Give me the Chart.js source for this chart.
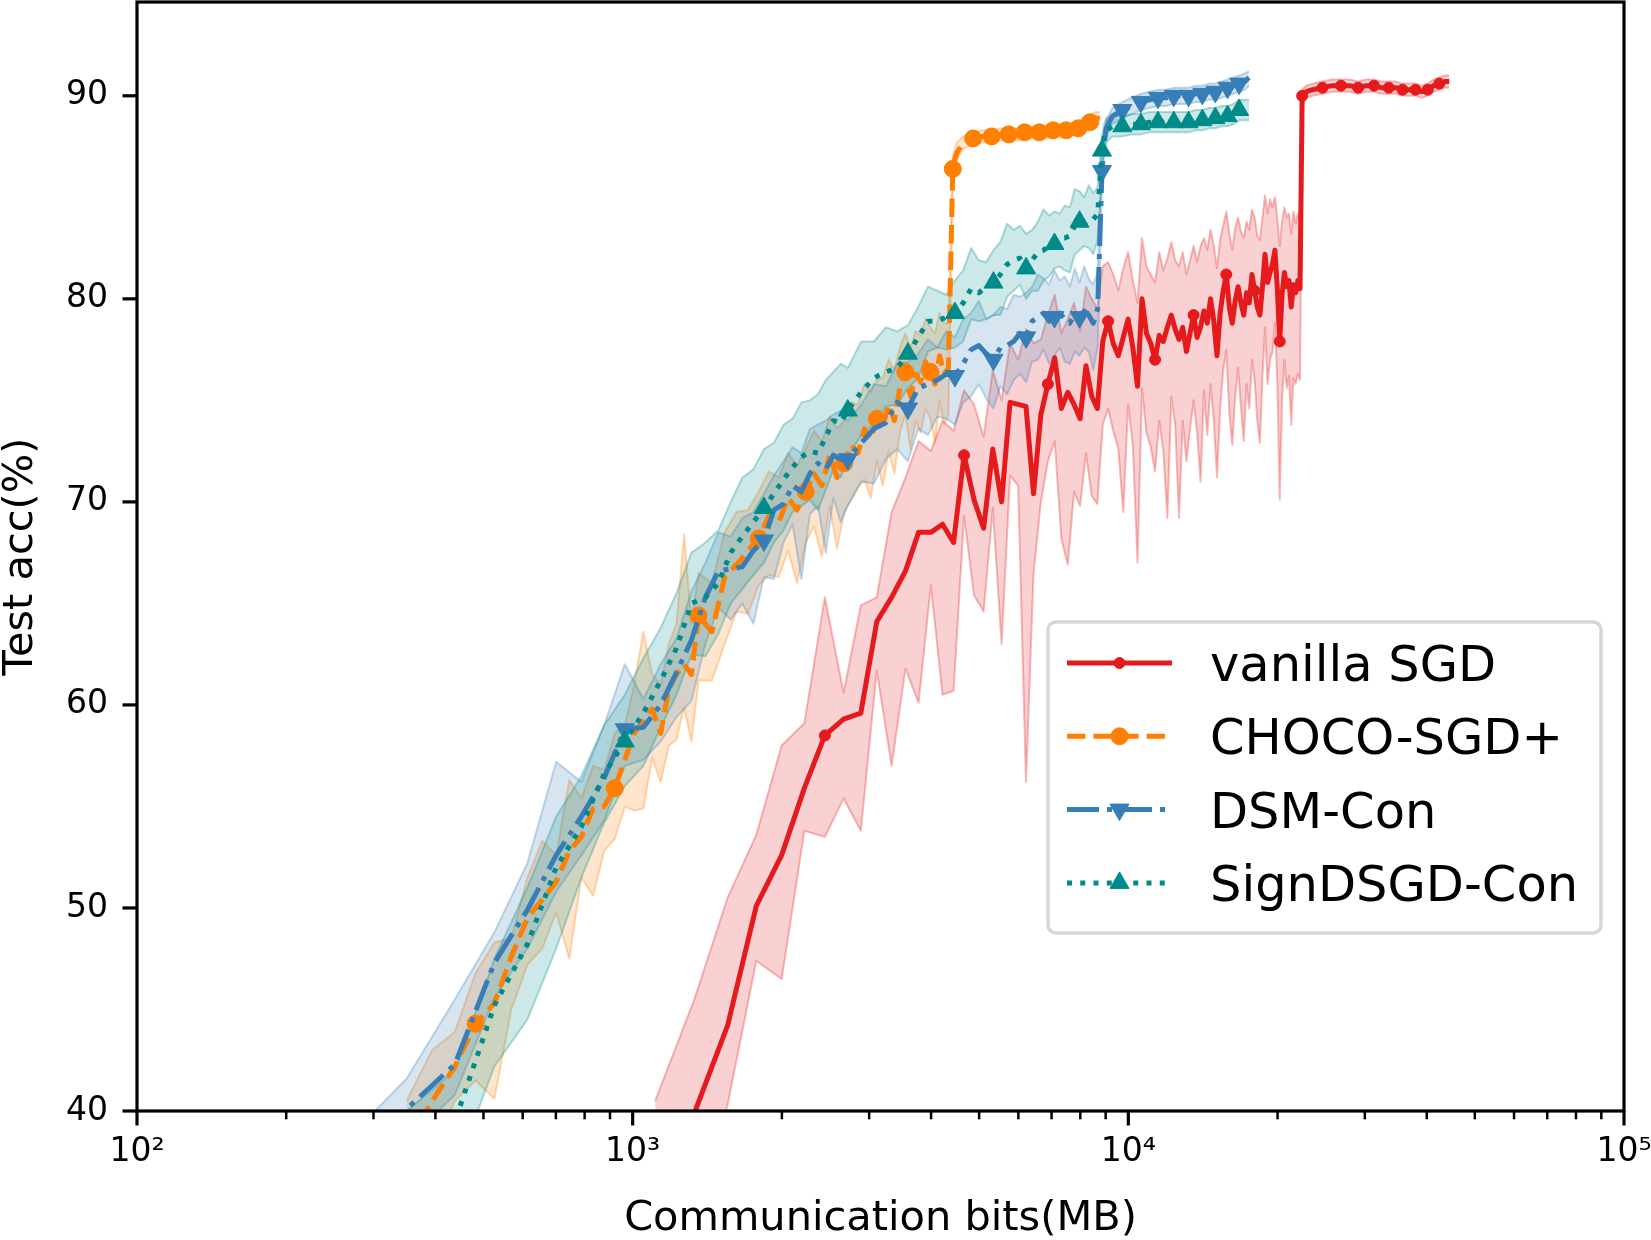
<!DOCTYPE html>
<html>
<head>
<meta charset="utf-8">
<script src="https://cdn.jsdelivr.net/npm/chart.js@4.4.1/dist/chart.umd.min.js"></script>
<style>
html,body{margin:0;padding:0;background:#fff;}
canvas{display:block;}
</style>
</head>
<body>
<canvas id="c" width="1651" height="1240"></canvas>
<script>
// ---------------- data (x = communication MB, y = test accuracy %) ----------------
const seriesNames = ['vanilla SGD', 'CHOCO-SGD+', 'DSM-Con', 'SignDSGD-Con'];

const sgdX = [1110,1332,1554,1776,1998,2220,2442,2664,2886,3108,3330,3552,3774,3996,4218,4440,
4662,4884,5106,5328,5550,5772,5994,6216,6438,6660,
6882,7104,7326,7548,7770,7992,8214,8436,8658,8880,
9102,9324,9546,9768,9990,10212,10434,10656,10878,11100,
11322,11544,11766,11988,12210,12432,12654,12876,13098,13320,
13542,13764,13986,14208,14430,14652,14874,15096,15318,15540,
15762,15984,16206,16428,16650,16872,17094,17316,17538,17760,
17982,18204,18426,18648,18870,19092,19314,19536,19758,19980,
20202,20424,20646,20868,21090,21312,21534,21756,21978,22200,
22422,22644,22866,23532,24642,25752,26862,27972,29082,30192,31302,32412,33522,34632,35742,36852,37962,39072,40182,41292,42402,43512,44400];
const sgdMean = [36.0,39.9,44.2,50.1,52.6,55.9,58.5,59.3,59.6,64.1,65.3,66.6,68.5,68.5,68.9,68.0,
72.3,70.1,68.7,72.6,70.0,74.9,74.8,74.7,70.4,74.3,
75.8,77.1,74.6,75.4,74.8,74.1,76.7,75.2,74.6,77.9,
78.9,77.8,77.2,78.1,79.0,77.6,75.7,80.0,78.3,77.8,
77.0,78.2,77.9,78.6,79.2,78.5,78.0,78.6,77.4,78.3,
79.2,78.1,78.6,79.4,78.8,80.0,78.9,77.2,79.3,80.4,
81.2,79.6,78.8,79.9,80.6,79.8,79.2,80.3,79.8,81.2,
80.4,79.6,79.2,80.6,82.2,80.8,81.3,81.7,82.4,80.5,
77.9,80.2,81.3,80.6,80.9,79.6,80.7,80.3,80.9,80.5,
90.0,90.1,90.2,90.3,90.4,90.5,90.5,90.5,90.4,90.5,90.5,90.4,90.4,90.4,90.3,90.3,90.3,90.2,90.3,90.5,90.6,90.7,90.7];
const sgdHi = [40.5,45.5,50.5,53.6,58.0,59.1,65.3,60.6,64.9,65.3,69.5,71.2,73.0,72.5,74.0,73.5,
75.5,74.8,73.2,76.5,75.0,77.8,77.0,78.5,77.8,78.0,
79.2,80.2,78.3,79.0,79.8,78.4,80.6,80.0,79.5,81.6,
81.8,81.2,80.4,81.5,82.3,80.9,79.8,83.0,81.6,81.2,
80.8,82.3,81.4,82.0,82.8,81.9,81.6,82.3,81.2,81.9,
82.6,81.8,82.6,83.0,82.4,83.4,82.6,81.5,82.9,83.6,
84.3,83.2,82.4,83.5,84.0,83.3,83.0,83.8,83.4,84.4,
84.0,83.1,82.9,84.0,85.1,84.2,84.9,84.5,85.0,83.9,
82.6,83.8,84.5,84.0,84.2,83.2,84.3,83.7,84.2,83.8,
90.3,90.4,90.5,90.6,90.7,90.8,90.8,90.8,90.7,90.8,90.8,90.7,90.7,90.7,90.6,90.6,90.6,90.5,90.6,90.8,90.9,91.0,91.0];
const sgdLo = [31.0,35.0,40.3,47.4,46.5,53.8,53.5,55.4,53.8,61.7,57.0,61.8,60.1,65.9,60.5,60.7,
69.3,65.4,64.6,69.7,63.0,71.3,70.8,56.2,66.5,70.0,
72.0,73.0,68.2,66.9,70.5,69.8,72.4,70.3,69.9,73.8,
74.6,73.5,72.6,69.5,74.8,72.8,67.0,75.6,73.4,72.7,
71.5,74.0,72.5,69.2,75.2,73.8,69.2,74.0,72.0,73.6,
75.0,73.4,71.0,75.5,73.3,75.8,74.0,71.2,74.6,76.5,
77.5,74.4,72.8,75.2,76.6,74.7,73.0,75.8,74.6,77.0,
76.0,74.0,72.9,76.2,78.6,75.8,77.0,77.4,78.8,75.9,
70.1,75.0,77.0,75.6,76.2,73.8,76.1,75.8,76.3,76.0,
89.4,89.8,89.9,90.0,90.1,90.2,90.2,90.2,90.1,90.2,90.2,90.1,90.1,90.1,90.0,90.0,90.0,89.9,90.0,90.2,90.3,90.4,90.4];

const chocoX = [350,394,438,482,526,569,613,657,701,745,788,832,876,920,964,1007,1051,1095,1139,1183,1226,1270,1314,
1358,1445,1533,1621,1708,1796,1883,1971,2059,2146,2234,2321,2409,2497,2584,2672,2759,2847,2935,3022,3110,3197,3285,3373,3460,3548,3635,3723,3811,3898,3986,4073,4161,4249,4336,
4424,4468,4511,4643,4862,5081,5300,5519,5738,5957,6176,6395,6614,6833,7052,7271,7490,7709,7928,8147,8366,8585,8760];
const chocoMean = [38.3,40.5,42.2,44.3,45.3,47.6,49.5,50.4,51.3,52.8,53.5,54.9,55.0,55.9,57.3,58.6,59.2,59.8,58.6,60.8,61.5,62.0,61.5,
64.4,63.6,66.3,66.9,67.6,68.2,69.3,69.0,70.2,69.6,70.5,71.4,70.8,72.3,71.2,71.9,72.8,72.4,73.6,73.1,74.1,73.7,74.8,74.0,75.6,76.4,75.2,76.3,75.9,76.9,76.4,75.8,77.2,76.3,76.6,
86.4,86.9,87.2,87.7,87.9,88.0,88.0,88.1,88.1,88.1,88.2,88.2,88.2,88.2,88.3,88.3,88.3,88.4,88.4,88.6,88.7,88.9,88.9];
const chocoHi = [40.5,43.0,43.9,46.8,48.3,48.5,51.5,53.3,52.6,56.3,55.4,57.0,56.8,58.6,59.0,61.0,63.6,61.5,61.0,63.0,64.0,68.4,64.0,
66.5,66.0,68.5,69.5,69.6,70.5,71.5,71.2,72.4,71.8,72.6,73.5,73.0,74.2,73.6,74.0,74.9,74.8,75.8,75.4,76.0,76.1,77.0,76.5,77.6,78.3,77.6,78.4,78.2,79.0,78.6,78.3,79.3,78.8,78.8,
87.0,87.4,87.7,88.0,88.2,88.3,88.3,88.4,88.4,88.4,88.5,88.5,88.5,88.5,88.6,88.6,88.6,88.7,88.7,88.9,89.0,89.2,89.2];
const chocoLo = [36.2,38.0,40.5,41.5,40.6,45.0,47.2,48.0,49.8,47.5,51.5,50.6,52.8,53.4,55.0,54.8,54.9,57.4,56.2,58.0,58.3,59.9,58.2,
61.2,61.2,63.0,64.6,64.5,65.9,66.4,66.3,67.6,66.0,68.0,68.8,67.3,69.8,67.7,69.5,70.1,70.7,71.1,70.2,72.0,70.8,72.5,71.4,73.4,74.3,72.6,74.0,73.4,74.6,74.1,72.9,75.0,73.8,74.3,
85.8,86.5,86.8,87.4,87.6,87.7,87.7,87.8,87.8,87.8,87.9,87.9,87.9,87.9,88.0,88.0,88.0,88.1,88.1,88.3,88.4,88.6,88.6];

// DSM-Con and SignDSGD-Con share the same communication axis
const dsmX = [263,350,438,526,613,701,788,876,964,1051,1139,1226,1314,1402,1489,1577,1664,1752,1840,1927,2015,2102,2190,2278,2365,2453,2540,2628,
2716,2891,3066,3241,3416,3592,3767,3942,4117,4292,4468,4643,4818,4993,5168,5344,5519,5694,5869,6044,6220,6395,6570,6745,6920,7096,7271,7446,7621,7796,7972,8147,8322,8497,8672,
8848,8935,9023,9286,9724,10162,10600,11038,11476,11914,12352,12790,13228,13666,14104,14542,14980,15418,15856,16294,16732,17170,17520];
const dsmMean = [37.0,40.1,42.3,47.3,49.9,52.6,54.5,56.4,58.8,58.9,60.0,61.6,63.2,65.3,66.6,66.7,66.8,67.6,68.1,69.6,69.9,70.8,70.5,71.4,71.9,71.6,72.3,72.1,
72.1,72.9,73.6,73.9,74.9,74.6,75.6,75.8,76.0,76.3,76.2,76.8,77.5,77.7,77.3,77.0,77.6,77.7,77.9,78.3,78.1,78.9,79.1,79.3,78.9,79.1,79.3,79.0,78.8,79.3,79.1,79.4,79.2,78.8,79.5,
86.3,87.6,88.4,89.0,89.3,89.5,89.7,89.8,89.9,89.9,90.0,90.0,90.0,90.1,90.1,90.2,90.2,90.3,90.4,90.5,90.6,90.7,90.9];
const dsmHi = [38.5,41.6,45.5,48.8,52.2,57.2,56.2,59.0,62.0,60.3,62.0,63.3,65.6,67.0,68.5,68.3,69.2,69.5,70.4,71.3,72.0,72.7,72.4,73.6,73.8,74.0,74.3,74.5,
74.0,74.8,75.8,75.7,76.8,76.9,77.3,78.0,77.6,78.4,78.1,79.0,79.3,79.9,79.0,79.2,79.6,79.5,80.2,80.1,80.3,80.6,81.2,81.0,80.7,81.4,80.9,81.1,80.6,81.5,80.8,81.6,81.0,80.7,81.3,
87.2,88.1,88.8,89.4,89.7,89.9,90.1,90.2,90.3,90.3,90.4,90.4,90.4,90.5,90.5,90.6,90.6,90.7,90.8,90.9,91.0,91.1,91.2];
const dsmLo = [35.5,38.5,40.8,45.6,48.0,50.8,52.6,54.3,57.0,57.3,58.2,59.4,60.2,63.0,64.8,64.2,65.0,64.0,66.3,66.2,68.0,68.9,66.2,69.4,69.8,67.5,70.2,69.0,
69.8,71.0,70.9,72.1,72.6,72.0,73.6,73.3,74.2,74.1,73.8,74.9,75.2,75.8,75.1,74.6,75.7,75.3,76.0,76.3,75.9,76.9,77.0,77.5,76.8,77.2,77.6,76.9,76.8,77.4,77.2,77.6,77.4,76.5,77.6,
85.5,87.0,88.0,88.6,88.9,89.1,89.3,89.4,89.5,89.5,89.6,89.6,89.6,89.7,89.7,89.8,89.8,89.9,90.0,90.1,90.2,90.3,90.5];

const signMean = [35.0,37.5,39.5,45.2,48.2,52.0,54.0,56.6,58.2,59.6,61.2,62.8,65.0,65.3,66.0,67.5,68.3,69.0,69.7,70.4,71.1,71.7,72.2,72.5,72.4,73.2,74.0,73.9,
74.5,75.4,76.1,76.4,76.6,77.3,78.1,78.9,78.9,79.1,79.3,79.8,80.5,80.3,80.6,80.8,81.2,81.7,81.9,82.0,81.5,81.9,82.3,82.4,82.6,82.7,83.0,83.0,83.1,83.6,83.8,83.7,83.9,83.9,84.2,
87.3,88.0,88.3,88.5,88.5,88.6,88.6,88.7,88.7,88.7,88.7,88.7,88.7,88.8,88.8,88.9,88.9,89.0,89.0,89.1,89.3,89.3,89.3];
const signHi = [37.5,40.0,42.0,47.5,51.0,54.5,56.5,59.0,60.5,62.3,63.8,65.5,67.5,68.0,68.6,70.0,71.2,71.6,72.6,72.9,73.8,74.1,74.9,75.0,75.3,76.0,76.4,76.8,
76.6,77.9,77.9,78.6,78.4,78.7,79.6,80.6,80.4,80.2,80.9,81.4,82.5,81.9,81.8,82.4,82.8,83.7,83.4,83.6,83.2,83.4,83.8,84.4,84.1,84.3,84.2,84.6,84.5,85.4,85.3,85.0,85.6,85.2,85.5,
88.0,88.6,88.9,89.0,89.0,89.1,89.1,89.2,89.2,89.2,89.2,89.2,89.2,89.3,89.3,89.4,89.4,89.5,89.5,89.6,89.8,89.8,89.8];
const signLo = [32.5,35.0,37.0,42.2,44.5,48.0,51.5,54.2,56.0,57.0,58.9,60.5,62.5,62.4,63.5,65.0,65.7,66.4,67.0,68.0,68.6,69.5,69.8,70.1,69.6,70.6,71.6,71.2,
72.2,73.3,73.8,74.7,74.8,75.6,76.1,77.4,77.6,77.5,77.6,77.9,79.0,78.9,79.0,79.2,79.2,80.1,80.4,80.7,80.0,80.4,80.4,80.9,81.1,81.5,81.6,81.4,81.3,82.2,82.4,82.6,82.5,82.2,82.9,
86.4,87.4,87.7,88.0,88.0,88.1,88.1,88.2,88.2,88.2,88.2,88.2,88.2,88.3,88.3,88.4,88.4,88.5,88.5,88.6,88.8,88.8,88.8];

// points that carry a marker (every 10th epoch)
const sgdMarkIdx = [6,16,26,36,46,56,66,76,86,96,100,102,104,106,108,110,112,114,116];
const chocoMarkIdx = [3,13,23,28,33,38,43,48,53,58,62,64,66,68,70,72,74,76,78];
const dsmMarkIdx = [8,18,28,33,38,43,48,53,58,63,67,69,71,73,75,77,79,81,83];

// axis ticks
const xMajorTicks = [100, 1000, 10000, 100000];
const xTickLabels = ['10\u00b2', '10\u00b3', '10\u2074', '10\u2075'];
const xMinorTicks = [200,300,400,500,600,700,800,900,2000,3000,4000,5000,6000,7000,8000,9000,20000,30000,40000,50000,60000,70000,80000,90000];
const yTicks = [40, 50, 60, 70, 80, 90];

// ---------------- styling ----------------
const FONT = '"DejaVu Sans", "Liberation Sans", sans-serif';
const series = [
  {label: seriesNames[0], x: sgdX, mean: sgdMean, lo: sgdLo, hi: sgdHi, marks: sgdMarkIdx, rgb: '228,26,28', dash: [], style: 'circle', r: 5.5, rot: 0},
  {label: seriesNames[1], x: chocoX, mean: chocoMean, lo: chocoLo, hi: chocoHi, marks: chocoMarkIdx, rgb: '255,127,0', dash: [18.5, 8], style: 'circle', r: 8.5, rot: 0},
  {label: seriesNames[2], x: dsmX, mean: dsmMean, lo: dsmLo, hi: dsmHi, marks: dsmMarkIdx, rgb: '55,126,184', dash: [32, 8, 5, 8], style: 'triangle', r: 11, rot: 180},
  {label: seriesNames[3], x: dsmX, mean: signMean, lo: signLo, hi: signHi, marks: dsmMarkIdx, rgb: '0,139,139', dash: [5, 8.25], style: 'triangle', r: 11, rot: 0}
];

const pts = (xs, ys) => xs.map((x, i) => ({x: x, y: ys[i]}));
const datasets = [];
series.forEach((s, k) => {
  datasets.push({label: s.label + ' lower', data: pts(s.x, s.lo), borderColor: 'rgba(' + s.rgb + ',0.3)', borderWidth: 2,
    borderJoinStyle: 'round', pointRadius: 0, fill: false, order: 20 - k, clip: 0});
  datasets.push({label: s.label + ' upper', data: pts(s.x, s.hi), borderColor: 'rgba(' + s.rgb + ',0.3)', borderWidth: 2,
    borderJoinStyle: 'round', pointRadius: 0, fill: '-1', backgroundColor: 'rgba(' + s.rgb + ',0.2)', order: 20 - k, clip: 0});
});
series.forEach((s, k) => {
  const col = 'rgb(' + s.rgb + ')';
  datasets.push({label: s.label, data: pts(s.x, s.mean), borderColor: col, borderWidth: 5, borderDash: s.dash,
    borderJoinStyle: 'round', borderCapStyle: 'butt', fill: false, order: 10 - k, clip: 0,
    pointStyle: s.style, pointRotation: s.rot,
    pointRadius: c => s.marks.includes(c.dataIndex) ? s.r : 0,
    pointBackgroundColor: col, pointBorderColor: col, pointBorderWidth: 1});
});

function drawMarker(c, style, rot, r, x, y) {
  c.beginPath();
  if (style === 'circle') {
    c.arc(x, y, r, 0, Math.PI * 2);
  } else {
    let a = rot * Math.PI / 180;
    for (let j = 0; j < 3; j++) {
      const px = x + Math.sin(a) * r, py = y - Math.cos(a) * r;
      if (j === 0) c.moveTo(px, py); else c.lineTo(px, py);
      a += 2 * Math.PI / 3;
    }
    c.closePath();
  }
  c.fill();
  c.stroke();
}

const axesPlugin = {
  id: 'mplAxes',
  afterDatasetsDraw(chart) {
    const c = chart.ctx, a = chart.chartArea, xs = chart.scales.x, ys = chart.scales.y;
    c.save();
    c.strokeStyle = '#000';
    c.lineCap = 'butt';
    const seg = (x1, y1, x2, y2) => { c.beginPath(); c.moveTo(x1, y1); c.lineTo(x2, y2); c.stroke(); };
    c.lineWidth = 3.2;
    xMajorTicks.forEach(v => { const p = xs.getPixelForValue(v); seg(p, a.bottom, p, a.bottom + 14.5); });
    c.lineWidth = 2.5;
    xMinorTicks.forEach(v => { const p = xs.getPixelForValue(v); seg(p, a.bottom, p, a.bottom + 8.3); });
    c.lineWidth = 3.2;
    yTicks.forEach(v => { const p = ys.getPixelForValue(v); seg(a.left - 14.5, p, a.left, p); });
    c.lineWidth = 3.2;
    c.strokeRect(a.left, a.top, a.right - a.left, a.bottom - a.top);
    c.restore();
  }
};

const legendPlugin = {
  id: 'boxLegend',
  afterDraw(chart) {
    const c = chart.ctx;
    const bx = 1048, by = 622, bw = 553, bh = 311, rad = 8;
    c.save();
    c.beginPath();
    c.moveTo(bx + rad, by);
    c.arcTo(bx + bw, by, bx + bw, by + bh, rad);
    c.arcTo(bx + bw, by + bh, bx, by + bh, rad);
    c.arcTo(bx, by + bh, bx, by, rad);
    c.arcTo(bx, by, bx + bw, by, rad);
    c.closePath();
    c.fillStyle = 'rgba(255,255,255,0.8)';
    c.fill();
    c.lineWidth = 3.5;
    c.strokeStyle = '#d6d6d6';
    c.stroke();
    series.forEach((s, i) => {
      const y = 663 + i * 73.3;
      const col = 'rgb(' + s.rgb + ')';
      c.strokeStyle = col;
      c.fillStyle = col;
      c.lineWidth = 5;
      c.lineCap = 'butt';
      c.setLineDash(s.dash);
      c.beginPath(); c.moveTo(1067, y); c.lineTo(1172, y); c.stroke();
      c.setLineDash([]);
      c.lineWidth = 1;
      drawMarker(c, s.style, s.rot, s.r, 1119.5, y);
      c.fillStyle = '#000';
      c.font = '49.5px ' + FONT;
      c.textBaseline = 'alphabetic';
      c.textAlign = 'left';
      c.fillText(s.label, 1210, y + 18);
    });
    c.restore();
  }
};

const noScalePadding = s => { s.paddingTop = 0; s.paddingBottom = 0; s.paddingLeft = 0; s.paddingRight = 0; };

new Chart(document.getElementById('c').getContext('2d'), {
  type: 'line',
  data: {datasets: datasets},
  options: {
    responsive: false,
    animation: false,
    devicePixelRatio: 1,
    events: [],
    layout: {padding: {left: 0, right: 27, top: 2, bottom: 0}},
    plugins: {legend: {display: false}, tooltip: {enabled: false}},
    elements: {line: {tension: 0}},
    scales: {
      x: {
        type: 'logarithmic', min: 100, max: 100000,
        afterBuildTicks: s => { s.ticks = xMajorTicks.map(v => ({value: v, major: true})); },
        afterFit: s => { s.height = 129; noScalePadding(s); },
        grid: {display: false, drawTicks: false, tickLength: 0},
        border: {display: false},
        ticks: {color: '#000', font: {family: FONT, size: 33}, padding: 22, maxRotation: 0, minRotation: 0, autoSkip: false,
          callback: (v, i) => xTickLabels[i]},
        title: {display: true, text: 'Communication bits(MB)', color: '#000', font: {family: FONT, size: 41.5, lineHeight: 1}, padding: {top: 0, bottom: 0}}
      },
      y: {
        type: 'linear', min: 40, max: 94.62,
        afterBuildTicks: s => { s.ticks = yTicks.map(v => ({value: v})); },
        afterFit: s => { s.width = 137; noScalePadding(s); },
        grid: {display: false, drawTicks: false, tickLength: 0},
        border: {display: false},
        ticks: {color: '#000', font: {family: FONT, size: 33}, padding: 29, callback: v => String(v)},
        title: {display: true, text: 'Test acc(%)', color: '#000', font: {family: FONT, size: 41.5, lineHeight: 1}, padding: {top: 0, bottom: 0}}
      }
    }
  },
  plugins: [axesPlugin, legendPlugin]
});
</script>
</body>
</html>
